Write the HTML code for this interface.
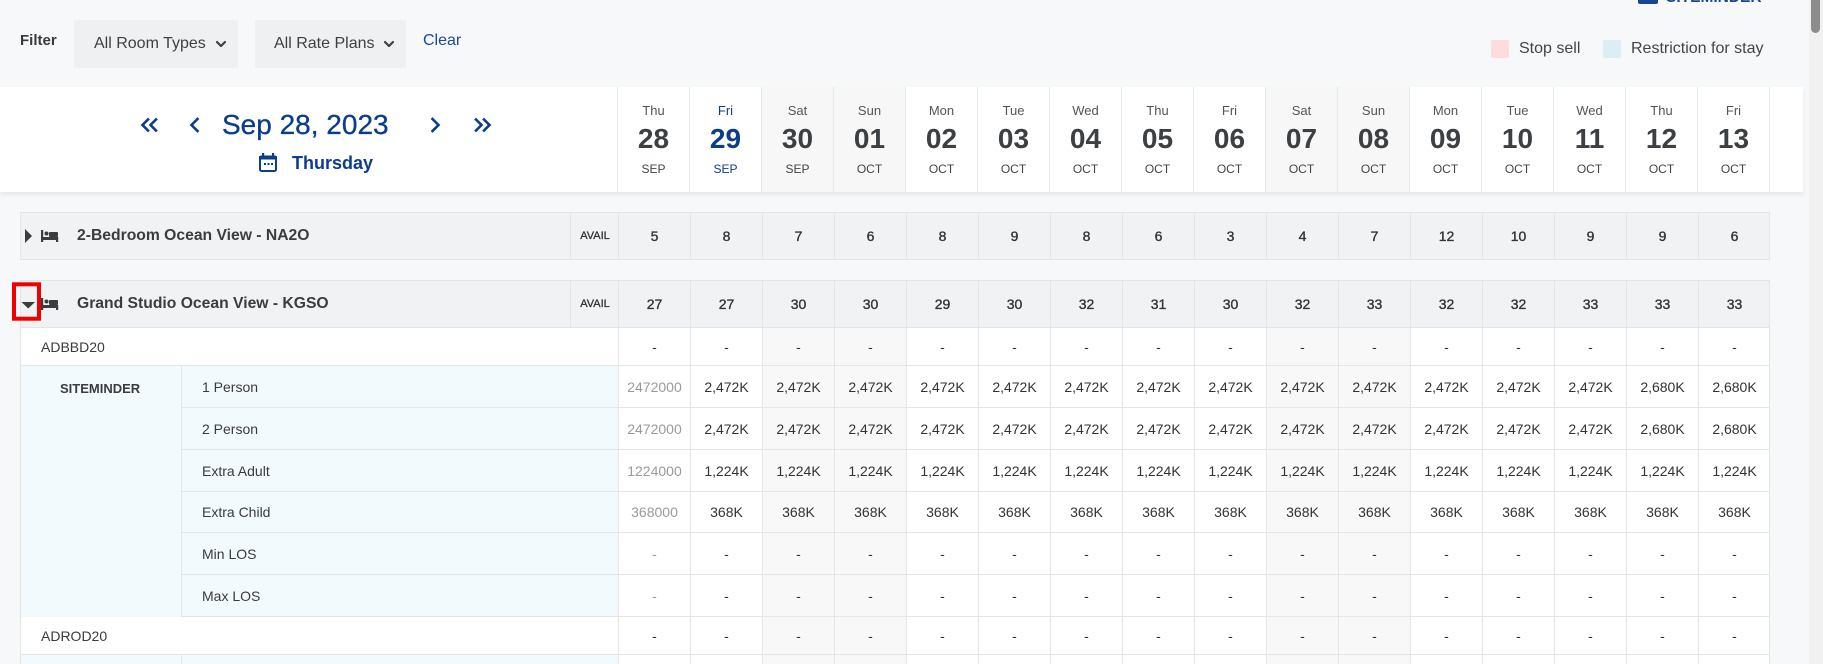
<!DOCTYPE html>
<html><head><meta charset="utf-8">
<style>
*{margin:0;padding:0}
html,body{width:1823px;height:664px;overflow:hidden}
body{background:#f7f8fa;font-family:"Liberation Sans",Arial,sans-serif;color:#3c3f42;position:relative}
.abs{position:absolute}
.dd{position:absolute;top:20px;height:48px;background:#eff0f2;font-size:16px;color:#3d3f42;line-height:48px}
#hdr{position:absolute;left:0;top:87px;width:1803px;height:105px;background:#fff;box-shadow:0 3px 5px rgba(0,0,0,.07)}
#hcols{position:absolute;left:617px;top:0;height:105px;display:flex}
#hcols>div{width:72px;height:105px;box-sizing:border-box;border-left:1px solid #e6e7e9;position:relative;text-align:center}
#hcols>div.w{background:#f7f7f8}
#hcols .d{position:absolute;left:0;right:0;top:16px;line-height:16px;font-size:13px;color:#555}
#hcols .n{position:absolute;left:0;right:0;top:36px;line-height:32px;font-size:28px;font-weight:bold;color:#3c4043}
#hcols .m{position:absolute;left:0;right:0;top:74px;line-height:16px;font-size:12px;color:#444}
#hcols .b .d,#hcols .b .n,#hcols .b .m{color:#0b3d8c}
.r{position:absolute;left:20px;width:1750px;box-sizing:border-box;border-left:1px solid #e4e5e7;border-right:1px solid #e4e5e7;border-bottom:1px solid #e4e5e7;background:#fff}
.g{background:#f1f2f4;border-top:1px solid #e4e5e7}
.c{position:absolute;left:597px;top:0;bottom:0;display:flex}
.c>div{width:72px;box-sizing:border-box;border-left:1px solid #e4e5e7;display:flex;align-items:center;justify-content:center;font-size:14px;color:#333}
.c>div.w{background:#f8f8f9}
.g .c>div{-webkit-text-stroke:0.35px #333}
.c>div.f{color:#9a9a9a}
.nm{position:absolute;left:56px;top:0;bottom:0;display:flex;align-items:center;font-size:15.7px;font-weight:bold;color:#3a3d40}
.av{position:absolute;left:549px;top:0;bottom:0;width:48px;border-left:1px solid #e4e5e7;display:flex;align-items:center;justify-content:center;font-size:11px;color:#333;-webkit-text-stroke:0.3px #333}
.rp{position:absolute;left:20px;top:0;bottom:0;display:flex;align-items:center;font-size:14px;color:#3a3a3a}
.s{position:absolute;left:181px;width:1589px;box-sizing:border-box;border-right:1px solid #e4e5e7;border-bottom:1px solid #e4e5e7;background:#fff}
.s .c{left:437px}
.lb{position:absolute;left:0;width:437px;top:0;bottom:0;background:#f3fafd;border-left:1px solid #e4e5e7;display:flex;align-items:center;padding-left:20px;box-sizing:border-box;font-size:14px;color:#3a3a3a}
.sm{background:#f3fafd}
</style></head><body>

<!-- top cut-off SITEMINDER -->
<div class="abs" style="left:1638px;top:-10px;width:20px;height:14px;background:#1a4593;border-radius:2px"></div>
<div class="abs" style="left:1666px;top:-10px;font-size:15.5px;font-weight:bold;color:#1a4593;line-height:16px">SITEMINDER</div>

<!-- scrollbar -->
<div class="abs" style="left:1809px;top:0;width:14px;height:664px;background:#f1f1f1"></div>
<div class="abs" style="left:1811px;top:0;width:9px;height:33px;background:#8c8c8c;border-radius:0 0 5px 5px"></div>

<!-- filter bar -->
<div class="abs" style="left:20px;top:31px;line-height:20px;font-size:15px;font-weight:bold;color:#3a3a3a">Filter</div>
<div class="dd" style="left:74px;width:164px"><span style="position:absolute;left:20px">All Room Types</span></div>
<div class="dd" style="left:255px;width:151px"><span style="position:absolute;left:19px">All Rate Plans</span></div>
<div class="abs" style="left:423px;top:31px;line-height:20px;font-size:16px;color:#1c4a94">Clear</div>

<!-- legend -->
<div class="abs" style="left:1491px;top:40px;width:18px;height:18px;background:#fddcdd;border-radius:2px"></div>
<div class="abs" style="left:1519px;top:39px;line-height:20px;font-size:16px;color:#444">Stop sell</div>
<div class="abs" style="left:1603px;top:40px;width:18px;height:18px;background:#dcedf4;border-radius:2px"></div>
<div class="abs" style="left:1631px;top:39px;line-height:20px;font-size:16px;color:#444">Restriction for stay</div>

<!-- header panel -->
<div id="hdr">
  <div class="abs" style="left:222px;top:22px;line-height:32px;font-size:28px;color:#0b3d8c;-webkit-text-stroke:0.3px #0b3d8c;white-space:nowrap">Sep 28, 2023</div>
  <div class="abs" style="left:292px;top:66px;line-height:20px;font-size:18px;font-weight:bold;color:#0b3d8c">Thursday</div>
  <div id="hcols">
    <div><div class="d">Thu</div><div class="n">28</div><div class="m">SEP</div></div>
    <div class="b"><div class="d">Fri</div><div class="n">29</div><div class="m">SEP</div></div>
    <div class="w"><div class="d">Sat</div><div class="n">30</div><div class="m">SEP</div></div>
    <div class="w"><div class="d">Sun</div><div class="n">01</div><div class="m">OCT</div></div>
    <div><div class="d">Mon</div><div class="n">02</div><div class="m">OCT</div></div>
    <div><div class="d">Tue</div><div class="n">03</div><div class="m">OCT</div></div>
    <div><div class="d">Wed</div><div class="n">04</div><div class="m">OCT</div></div>
    <div><div class="d">Thu</div><div class="n">05</div><div class="m">OCT</div></div>
    <div><div class="d">Fri</div><div class="n">06</div><div class="m">OCT</div></div>
    <div class="w"><div class="d">Sat</div><div class="n">07</div><div class="m">OCT</div></div>
    <div class="w"><div class="d">Sun</div><div class="n">08</div><div class="m">OCT</div></div>
    <div><div class="d">Mon</div><div class="n">09</div><div class="m">OCT</div></div>
    <div><div class="d">Tue</div><div class="n">10</div><div class="m">OCT</div></div>
    <div><div class="d">Wed</div><div class="n">11</div><div class="m">OCT</div></div>
    <div><div class="d">Thu</div><div class="n">12</div><div class="m">OCT</div></div>
    <div><div class="d">Fri</div><div class="n">13</div><div class="m">OCT</div></div>
    <div style="width:33px"></div>
  </div>
</div>

<!-- group row 1 -->
<div class="r g" style="top:212px;height:48px">
  <div class="nm">2-Bedroom Ocean View - NA2O</div>
  <div class="av">AVAIL</div>
  <div class="c"><div>5</div><div>8</div><div>7</div><div>6</div><div>8</div><div>9</div><div>8</div><div>6</div><div>3</div><div>4</div><div>7</div><div>12</div><div>10</div><div>9</div><div>9</div><div>6</div></div>
</div>

<!-- group row 2 -->
<div class="r g" style="top:280px;height:48px">
  <div class="nm">Grand Studio Ocean View - KGSO</div>
  <div class="av">AVAIL</div>
  <div class="c"><div>27</div><div>27</div><div>30</div><div>30</div><div>29</div><div>30</div><div>32</div><div>31</div><div>30</div><div>32</div><div>33</div><div>32</div><div>32</div><div>33</div><div>33</div><div>33</div></div>
</div>

<!-- ADBBD20 -->
<div class="r" style="top:328px;height:38px">
  <div class="rp">ADBBD20</div>
  <div class="c"><div>-</div><div>-</div><div class="w">-</div><div class="w">-</div><div>-</div><div>-</div><div>-</div><div>-</div><div>-</div><div class="w">-</div><div class="w">-</div><div>-</div><div>-</div><div>-</div><div>-</div><div>-</div></div>
</div>

<!-- SITEMINDER block -->
<div class="abs sm" style="left:20px;top:366px;width:162px;height:251px;border-left:1px solid #e4e5e7;box-sizing:border-box"></div>
<div class="abs" style="left:60px;top:379px;line-height:20px;font-size:13px;font-weight:bold;color:#3a3d40">SITEMINDER</div>

<div class="s" style="top:366px;height:42px">
  <div class="lb">1 Person</div>
  <div class="c"><div class="f">2472000</div><div>2,472K</div><div class="w">2,472K</div><div class="w">2,472K</div><div>2,472K</div><div>2,472K</div><div>2,472K</div><div>2,472K</div><div>2,472K</div><div class="w">2,472K</div><div class="w">2,472K</div><div>2,472K</div><div>2,472K</div><div>2,472K</div><div>2,680K</div><div>2,680K</div></div>
</div>
<div class="s" style="top:408px;height:42px">
  <div class="lb">2 Person</div>
  <div class="c"><div class="f">2472000</div><div>2,472K</div><div class="w">2,472K</div><div class="w">2,472K</div><div>2,472K</div><div>2,472K</div><div>2,472K</div><div>2,472K</div><div>2,472K</div><div class="w">2,472K</div><div class="w">2,472K</div><div>2,472K</div><div>2,472K</div><div>2,472K</div><div>2,680K</div><div>2,680K</div></div>
</div>
<div class="s" style="top:450px;height:42px">
  <div class="lb">Extra Adult</div>
  <div class="c"><div class="f">1224000</div><div>1,224K</div><div class="w">1,224K</div><div class="w">1,224K</div><div>1,224K</div><div>1,224K</div><div>1,224K</div><div>1,224K</div><div>1,224K</div><div class="w">1,224K</div><div class="w">1,224K</div><div>1,224K</div><div>1,224K</div><div>1,224K</div><div>1,224K</div><div>1,224K</div></div>
</div>
<div class="s" style="top:492px;height:41px">
  <div class="lb">Extra Child</div>
  <div class="c"><div class="f">368000</div><div>368K</div><div class="w">368K</div><div class="w">368K</div><div>368K</div><div>368K</div><div>368K</div><div>368K</div><div>368K</div><div class="w">368K</div><div class="w">368K</div><div>368K</div><div>368K</div><div>368K</div><div>368K</div><div>368K</div></div>
</div>
<div class="s" style="top:533px;height:42px">
  <div class="lb">Min LOS</div>
  <div class="c"><div class="f">-</div><div>-</div><div class="w">-</div><div class="w">-</div><div>-</div><div>-</div><div>-</div><div>-</div><div>-</div><div class="w">-</div><div class="w">-</div><div>-</div><div>-</div><div>-</div><div>-</div><div>-</div></div>
</div>
<div class="s" style="top:575px;height:42px">
  <div class="lb">Max LOS</div>
  <div class="c"><div class="f">-</div><div>-</div><div class="w">-</div><div class="w">-</div><div>-</div><div>-</div><div>-</div><div>-</div><div>-</div><div class="w">-</div><div class="w">-</div><div>-</div><div>-</div><div>-</div><div>-</div><div>-</div></div>
</div>

<!-- ADROD20 -->
<div class="r" style="top:617px;height:38px">
  <div class="rp">ADROD20</div>
  <div class="c"><div>-</div><div>-</div><div class="w">-</div><div class="w">-</div><div>-</div><div>-</div><div>-</div><div>-</div><div>-</div><div class="w">-</div><div class="w">-</div><div>-</div><div>-</div><div>-</div><div>-</div><div>-</div></div>
</div>

<!-- next block partial -->
<div class="abs sm" style="left:20px;top:655px;width:162px;height:20px;border-left:1px solid #e4e5e7;box-sizing:border-box"></div>
<div class="s" style="top:655px;height:20px;border-bottom:none">
  <div class="lb"></div>
  <div class="c"><div></div><div></div><div class="w"></div><div class="w"></div><div></div><div></div><div></div><div></div><div></div><div class="w"></div><div class="w"></div><div></div><div></div><div></div><div></div><div></div></div>
</div>

<!-- icons overlay -->
<svg class="abs" style="left:0;top:0" width="620" height="340" viewBox="0 0 620 340">
  <g fill="none" stroke="#3f4145" stroke-width="2.2" stroke-linecap="round" stroke-linejoin="round">
    <polyline points="217,42 221,46 225,42"/>
    <polyline points="385,42 389,46 393,42"/>
  </g>
  <g fill="none" stroke="#0b3d8c" stroke-width="2.6" stroke-linecap="square" stroke-linejoin="miter">
    <polyline points="148,119.5 142.5,125 148,130.5"/>
    <polyline points="156,119.5 150.5,125 156,130.5"/>
    <polyline points="197.5,119 191.5,125 197.5,131"/>
    <polyline points="432.5,119 438.5,125 432.5,131"/>
    <polyline points="476,119.5 481.5,125 476,130.5"/>
    <polyline points="484,119.5 489.5,125 484,130.5"/>
  </g>
  <!-- calendar -->
  <g fill="#0b3d8c">
    <rect x="259" y="156" width="18" height="3.5"/>
    <rect x="262" y="153" width="2.2" height="4"/>
    <rect x="272" y="153" width="2.2" height="4"/>
    <rect x="264" y="163" width="2" height="2"/>
    <rect x="267.5" y="163" width="2" height="2"/>
    <rect x="271" y="163" width="2" height="2"/>
  </g>
  <rect x="260" y="156.5" width="16" height="14.5" rx="1.5" fill="none" stroke="#0b3d8c" stroke-width="2"/>
  <!-- triangles -->
  <polygon points="25,229 32,236 25,243" fill="#3a3d40"/>
  <polygon points="21.5,302 35,302 28.2,308.5" fill="#3a3d40"/>
  <!-- bed icons -->
  <g fill="#3a3d40">
    <rect x="41" y="230" width="2.2" height="12"/>
    <circle cx="46.5" cy="233.5" r="2"/>
    <rect x="49" y="232" width="9" height="5" rx="1"/>
    <rect x="41" y="237" width="17" height="3"/>
    <rect x="56" y="237" width="2.2" height="5"/>
    <rect x="41" y="298" width="2.2" height="12"/>
    <circle cx="46.5" cy="301.5" r="2"/>
    <rect x="49" y="300" width="9" height="5" rx="1"/>
    <rect x="41" y="305" width="17" height="3"/>
    <rect x="56" y="305" width="2.2" height="5"/>
  </g>
  <!-- red highlight box -->
  <rect x="14" y="284.3" width="25" height="34.4" fill="none" stroke="#f00000" stroke-width="4"/>
</svg>
</body></html>
